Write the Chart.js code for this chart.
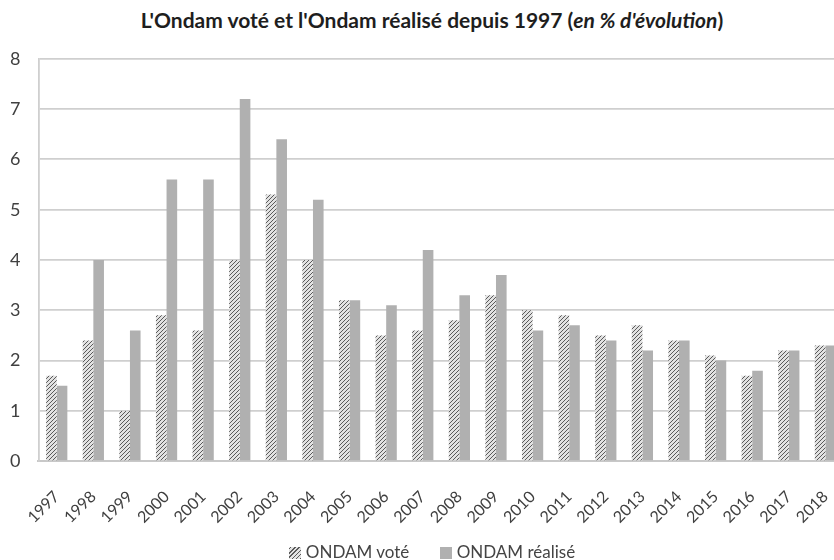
<!DOCTYPE html>
<html lang="fr">
<head>
<meta charset="UTF-8">
<title>Ondam voté et réalisé</title>
<script src="https://cdn.jsdelivr.net/npm/chart.js"></script>
<style>
  html, body { margin: 0; padding: 0; background: #fff; overflow: hidden; }
  body { position: relative; width: 834px; height: 560px; font-family: Lato, 'Open Sans', sans-serif; }
  #titre {
    width: 864px; height: 40px; line-height: 40px; text-align: center;
    font-weight: bold; font-size: 21px; color: #1e1e1e;
  }
  /* décalé à gauche : les étiquettes inclinées de 1997 débordent sous l'axe vertical */
  #wrap { position: relative; left: -17px; width: 874px; height: 517px; margin-top: -10px; }
  #legende {
    position: absolute; left: 0; top: 541px; width: 864px; text-align: center;
    font-size: 17px; color: #444; line-height: 22px;
  }
  #legende span.item { display: inline-block; margin: 0 13px; }
  #legende i {
    display: inline-block; width: 12px; height: 12px; margin-right: 5px; vertical-align: -1px;
  }
  #legende i.vote { background: repeating-linear-gradient(-45deg, #5a5a5a 0 1px, #e2e2e2 1px 3px); }
  #legende i.realise { background: #b0b0b0; }
</style>
</head>
<body>
<div id="titre">L'Ondam voté et l'Ondam réalisé depuis 1997 (<em>en % d'évolution</em>)</div>
<div id="wrap"><canvas id="chart"></canvas></div>
<div id="legende">
  <span class="item"><i class="vote"></i>ONDAM voté</span>
  <span class="item"><i class="realise"></i>ONDAM réalisé</span>
</div>
<script>
// Données
const annees = ['1997', '1998', '1999', '2000', '2001', '2002', '2003', '2004', '2005', '2006', '2007',
                '2008', '2009', '2010', '2011', '2012', '2013', '2014', '2015', '2016', '2017', '2018'];
const ondamVote = [1.7, 2.4, 1.0, 2.9, 2.6, 4.0, 5.3, 4.0, 3.2, 2.5, 2.6,
                   2.8, 3.3, 3.0, 2.9, 2.5, 2.7, 2.4, 2.1, 1.7, 2.2, 2.3];
const ondamRealise = [1.5, 4.0, 2.6, 5.6, 5.6, 7.2, 6.4, 5.2, 3.2, 3.1, 4.2,
                      3.3, 3.7, 2.6, 2.7, 2.4, 2.2, 2.4, 2.0, 1.8, 2.2, 2.3];

// Motif hachuré pour l'ONDAM voté
function hachures() {
  const c = document.createElement('canvas');
  c.width = 4; c.height = 4;
  const g = c.getContext('2d');
  g.fillStyle = '#e2e2e2';
  g.fillRect(0, 0, 4, 4);
  g.strokeStyle = '#5a5a5a';
  g.lineWidth = 1;
  g.beginPath();
  g.moveTo(0, 4); g.lineTo(4, 0);
  g.moveTo(-1, 1); g.lineTo(1, -1);
  g.moveTo(3, 5); g.lineTo(5, 3);
  g.stroke();
  return g.createPattern(c, 'repeat');
}

const police = "Lato, 'Open Sans', sans-serif";

new Chart(document.getElementById('chart'), {
  type: 'bar',
  data: {
    labels: annees,
    datasets: [
      { label: 'ONDAM voté', data: ondamVote, backgroundColor: hachures() },
      { label: 'ONDAM réalisé', data: ondamRealise, backgroundColor: '#b0b0b0' }
    ]
  },
  options: {
    responsive: true,
    maintainAspectRatio: false,
    animation: false,
    categoryPercentage: 0.58,
    barPercentage: 1.0,
    layout: { padding: { left: 9, right: 0, top: 6, bottom: 2 } },
    plugins: {
      legend: { display: false },
      tooltip: { enabled: false }
    },
    scales: {
      x: {
        grid: { display: false },
        border: { color: '#c8c8c8', width: 2 },
        ticks: {
          color: '#404040',
          font: { family: police, size: 16 },
          minRotation: 45,
          maxRotation: 45,
          padding: 18
        }
      },
      y: {
        min: 0,
        max: 8,
        ticks: {
          stepSize: 1,
          color: '#404040',
          font: { family: police, size: 18 },
          padding: 18
        },
        grid: { color: '#cfcfcf', lineWidth: 1.8, drawTicks: false },
        border: { display: true, color: '#cfcfcf', width: 1.8 }
      }
    }
  }
});
</script>
</body>
</html>
